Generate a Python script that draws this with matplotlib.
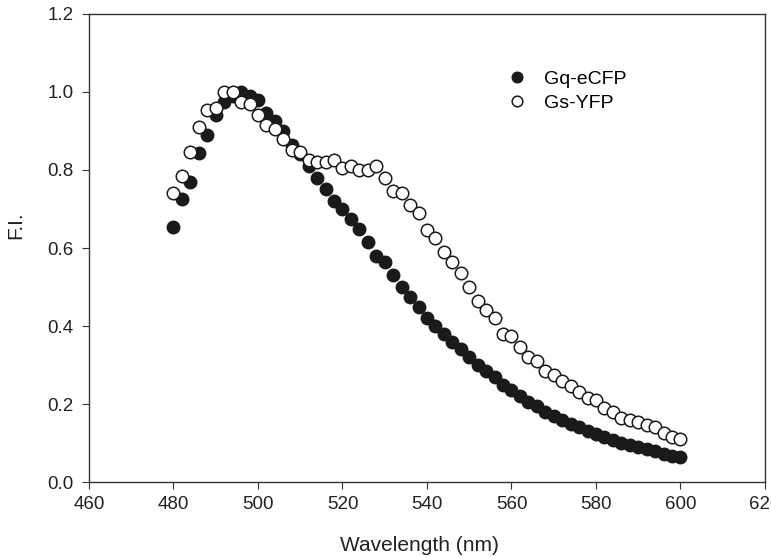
import matplotlib
matplotlib.use('Agg')
import matplotlib.pyplot as plt
import numpy as np

plt.rcParams['font.family'] = ['Liberation Sans', 'DejaVu Sans']

wavelength = np.arange(480, 601, 2)

gq_ecfp = [0.655, 0.725, 0.768, 0.843, 0.89, 0.94, 0.975, 0.99, 1.0, 0.99,
           0.98, 0.945, 0.925, 0.90, 0.865, 0.84, 0.81, 0.78, 0.75, 0.72,
           0.70, 0.675, 0.65, 0.615, 0.58, 0.565, 0.53, 0.50, 0.475, 0.45,
           0.42, 0.40, 0.38, 0.36, 0.34, 0.32, 0.30, 0.285, 0.27, 0.25,
           0.235, 0.22, 0.205, 0.195, 0.18, 0.17, 0.16, 0.15, 0.14, 0.13,
           0.122, 0.115, 0.107, 0.10, 0.095, 0.09, 0.085, 0.08, 0.073, 0.068,
           0.065]

gs_yfp = [0.74, 0.785, 0.845, 0.91, 0.955, 0.96, 1.0, 1.0, 0.975, 0.97,
          0.94, 0.915, 0.905, 0.88, 0.85, 0.845, 0.825, 0.82, 0.82, 0.825,
          0.805, 0.81, 0.80, 0.80, 0.81, 0.78, 0.745, 0.74, 0.71, 0.69,
          0.645, 0.625, 0.59, 0.565, 0.535, 0.50, 0.465, 0.44, 0.42, 0.38,
          0.375, 0.345, 0.32, 0.31, 0.285, 0.275, 0.26, 0.245, 0.23, 0.215,
          0.21, 0.19, 0.18, 0.165, 0.16, 0.155, 0.145, 0.14, 0.125, 0.115,
          0.11]

fig = plt.figure(figsize=(7.71, 5.57), dpi=100)
fig.patch.set_facecolor('white')
ax = fig.add_axes([0.1154, 0.1346, 0.8768, 0.8403])

ax.plot(wavelength, gq_ecfp, 'o', ms=9, color='#1a1a1a', mec='#1a1a1a', label='Gq-eCFP')
ax.plot(wavelength, gs_yfp, 'o', ms=9, mfc='white', mec='#1a1a1a', mew=1.1, label='Gs-YFP')

ax.set_xlim(460, 620)
ax.set_ylim(0, 1.2)
ax.set_xticks(np.arange(460, 621, 20))
ax.set_yticks(np.arange(0, 1.21, 0.2))
ax.yaxis.set_major_formatter(matplotlib.ticker.FormatStrFormatter('%.1f'))
ax.tick_params(direction='out', length=5, labelsize=13.5, color='#333333', labelcolor='#222222')
ax.tick_params(axis='x', pad=5)
ax.tick_params(axis='y', pad=6)
for s in ax.spines.values():
    s.set_color('#333333')
    s.set_linewidth(1.0)

ax.set_xlabel('Wavelength (nm)', fontsize=15, color='#222222', va='center')
ax.set_ylabel('F.I.', fontsize=15, color='#222222', va='center')
ax.xaxis.set_label_coords(0.489, -0.1346)
ax.yaxis.set_label_coords(-0.108, 0.549)

leg = ax.legend(loc='upper left', bbox_to_anchor=(0.607, 0.897), frameon=False,
                fontsize=14, handlelength=1.0, handletextpad=0.9,
                labelspacing=0.35, markerscale=0.85, borderaxespad=0)

fig.savefig('out.png', dpi=100, facecolor='white')
